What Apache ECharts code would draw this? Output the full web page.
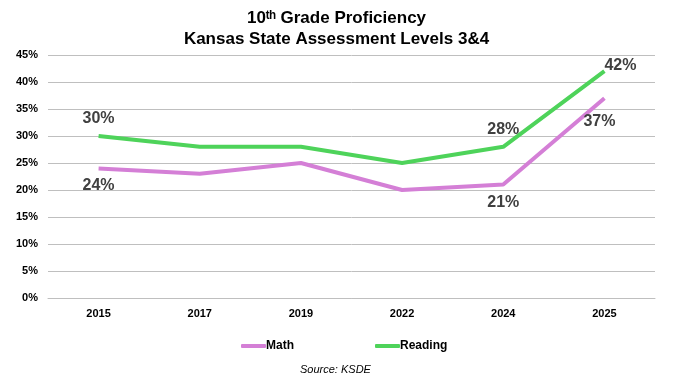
<!DOCTYPE html>
<html><head><meta charset="utf-8">
<script src="https://cdn.jsdelivr.net/npm/echarts@6/dist/echarts.min.js"></script>
<style>html,body{margin:0;padding:0;background:#fff}#c{width:673px;height:379px}</style>
</head><body><div id="c"></div>
<script>
const years = ['2015','2017','2019','2022','2024','2025'];
const mathValues = [24, 23, 25, 20, 21, 37];
const readingValues = [30, 28, 28, 25, 28, 42];
const mathLabeled = [true, false, false, false, true, true];
const readingLabeled = [true, false, false, false, true, true];
const yTicks = [0, 5, 10, 15, 20, 25, 30, 35, 40, 45];

const labelStyle = {fontFamily:'Liberation Sans, Arial', fontWeight:'bold', fontSize:16, color:'#404040'};
function buildData(vals, flags, positions) {
  return vals.map((v, i) => ({
    value: v,
    label: flags[i] ? Object.assign({show:true, formatter: v + '%'}, labelStyle, positions[i]) : {show:false}
  }));
}
const readingPos = [{position:'top', distance:9}, null, null, null, {position:'top', distance:9}, {position:'right', distance:0, offset:[0,-6]}];
const mathPos = [{position:'bottom', distance:9}, null, null, null, {position:'bottom', distance:10}, {position:'bottom', distance:15, offset:[-5,0]}];

const chart = echarts.init(document.getElementById('c'));
chart.setOption({
  animation:false,
  title:{
    text:'10ᵗʰ Grade Proficiency\nKansas State Assessment Levels 3&4',
    left:'center', top:3,
    textStyle:{fontFamily:'Liberation Sans, Arial', fontWeight:'bold', fontSize:17, color:'#000', lineHeight:21}
  },
  graphic:[{type:'text', left:300, top:364, style:{text:'Source: KSDE', font:'italic 11px Liberation Sans, Arial', fill:'#000'}}],
  legend:{
    bottom:22, left:236, itemGap:81, itemWidth:25, itemHeight:4,
    icon:'roundRect',
    textStyle:{fontFamily:'Liberation Sans, Arial', fontWeight:'bold', fontSize:12, color:'#000', padding:[0,0,0,-5]},
    data:['Math','Reading']
  },
  grid:{left:48, right:18, top:55, bottom:81},
  xAxis:{
    type:'category', data:years, boundaryGap:true,
    axisLine:{lineStyle:{color:'#bfbfbf', width:1}},
    axisTick:{show:false},
    axisLabel:{fontFamily:'Liberation Sans, Arial', fontWeight:'bold', fontSize:11, color:'#000', margin:10}
  },
  yAxis:{
    type:'value', min:yTicks[0], max:yTicks[yTicks.length-1], interval:5,
    axisLabel:{formatter:'{value}%', fontFamily:'Liberation Sans, Arial', fontWeight:'bold', fontSize:11, color:'#000', margin:10},
    splitLine:{lineStyle:{color:'#bfbfbf', width:1}},
    axisLine:{show:false}, axisTick:{show:false}
  },
  series:[
    {name:'Math', type:'line', data:buildData(mathValues, mathLabeled, mathPos), symbol:'circle', symbolSize:0.1, showSymbol:true,
     lineStyle:{color:'#d47fd6', width:4}, itemStyle:{color:'#d47fd6'}},
    {name:'Reading', type:'line', data:buildData(readingValues, readingLabeled, readingPos), symbol:'circle', symbolSize:0.1, showSymbol:true,
     lineStyle:{color:'#4ed35a', width:4}, itemStyle:{color:'#4ed35a'}}
  ]
});
</script></body></html>
